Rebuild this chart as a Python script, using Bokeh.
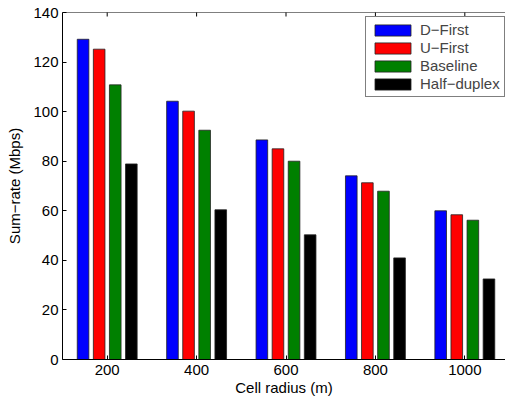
import math
from bokeh.plotting import figure
from bokeh.models import ColumnDataSource, Range1d, FixedTicker, Span
from bokeh.transform import dodge
from bokeh.embed import file_html
from bokeh.resources import INLINE

radius = [200, 400, 600, 800, 1000]
d_first = [129.2, 104.2, 88.6, 74.1, 60.0]
u_first = [125.2, 100.2, 85.0, 71.3, 58.4]
baseline = [110.8, 92.5, 80.0, 67.9, 56.2]
half_duplex = [78.9, 60.4, 50.3, 41.0, 32.5]
series_names = ["D\u2212First", "U\u2212First", "Baseline", "Half\u2212duplex"]
series_colors = ["#0000ff", "#ff0000", "#008000", "#000000"]
y_ticks = [0, 20, 40, 60, 80, 100, 120, 140]

src = ColumnDataSource(dict(radius=radius, d=d_first, u=u_first, b=baseline, h=half_duplex))

FONT = "Liberation Sans"
FS = "15px"
p = figure(width=505, height=399, output_backend="svg", toolbar_location=None,
           x_range=Range1d(100, 1091), y_range=Range1d(0, 140),
           min_border_left=62, min_border_right=0, min_border_top=12, min_border_bottom=40)
p.xgrid.visible = False
p.ygrid.visible = False
p.outline_line_color = None
p.background_fill_color = "white"

offsets = [-54, -18, 18, 54]
cols = ["d", "u", "b", "h"]
for off, col, name, color in zip(offsets, cols, series_names, series_colors):
    p.vbar(x=dodge("radius", off, range=p.x_range), top=col, width=26, source=src,
           fill_color=color, line_color="#222222", line_width=0.8, legend_label=name)

# top frame line and inward ticks on the top edge
p.add_layout(Span(location=y_ticks[-1], dimension="width", line_color="black", line_width=1))
p.scatter(x=radius, y=[y_ticks[-1]] * len(radius), marker="dash", angle=math.pi / 2,
          size=8, line_color="black", line_width=1)

for ax in [p.xaxis[0], p.yaxis[0]]:
    ax.major_tick_in = 4
    ax.major_tick_out = 0
    ax.minor_tick_in = 0
    ax.minor_tick_out = 0
    ax.axis_line_color = "black"
    ax.major_tick_line_color = "black"
    ax.major_label_text_font = FONT
    ax.major_label_text_font_size = FS
    ax.major_label_text_color = "black"
    ax.axis_label_text_font = FONT
    ax.axis_label_text_font_size = FS
    ax.axis_label_text_font_style = "normal"
    ax.axis_label_text_color = "black"

p.xaxis.ticker = FixedTicker(ticks=radius)
p.yaxis.ticker = FixedTicker(ticks=y_ticks)
p.xaxis.axis_label = "Cell radius (m)"
p.yaxis.axis_label = "Sum\u2212rate (Mbps)"
p.xaxis.major_label_standoff = 5
p.xaxis.axis_label_standoff = 1
p.yaxis.major_label_standoff = 4
p.yaxis.axis_label_standoff = 7

lg = p.legend[0]
lg.location = (303, 262)
lg.border_line_color = "black"
lg.border_line_width = 1
lg.background_fill_alpha = 1
lg.label_text_font = FONT
lg.label_text_font_size = FS
lg.glyph_width = 45
lg.glyph_height = 14
lg.label_height = 17
lg.spacing = 1
lg.padding = 4
lg.margin = 0
lg.label_standoff = 5

open("out.html", "w").write(file_html(p, INLINE))
